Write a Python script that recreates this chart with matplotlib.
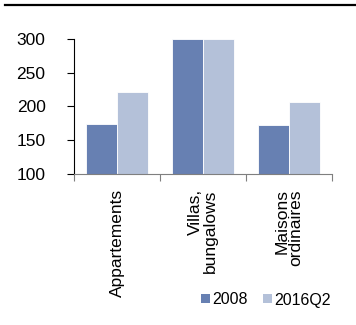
import numpy as np
import matplotlib.pyplot as plt
from matplotlib.lines import Line2D
from matplotlib.patches import Patch

plt.rcParams['font.family'] = ['Liberation Sans', 'DejaVu Sans']

categories = ['Appartements', 'Villas,\nbungalows', 'Maisons\nordinaires']
series_names = ['2008', '2016Q2']
values_2008 = [174, 300, 172]
values_2016 = [222, 300, 207]
colors = ['#6780B2', '#B4C1D9']

fig = plt.figure(figsize=(3.56, 3.25), dpi=100)
ax = fig.add_axes([74 / 356, 1 - 174 / 325, 258 / 356, 135 / 325])

x = np.arange(len(categories))
w = 0.355
ax.bar(x - w / 2, values_2008, w, color=colors[0], edgecolor='white', linewidth=0.6)
ax.bar(x + w / 2, values_2016, w, color=colors[1], edgecolor='white', linewidth=0.6)

ax.set_xlim(-0.5, 2.5)
ax.set_ylim(100, 300)
ax.set_yticks([100, 150, 200, 250, 300])
ax.tick_params(axis='y', labelsize=12.5, length=5, width=0.8, pad=15.5)

# category labels between boundary ticks
ax.set_xticks([-0.5, 0.5, 1.5, 2.5])
ax.set_xticklabels([])
ax.tick_params(axis='x', length=5, width=0.8, color='#7f7f7f')
for xi, lab in zip(x, categories):
    ax.annotate(lab, (xi, 0), xycoords=ax.get_xaxis_transform(),
                xytext=(0, -11), textcoords='offset points', rotation=90,
                ha='center', va='top', multialignment='right',
                fontsize=12.5, linespacing=0.95)

for s in ['top', 'right']:
    ax.spines[s].set_visible(False)
ax.spines['left'].set_linewidth(0.8)
ax.spines['bottom'].set_color('#7f7f7f')
ax.spines['bottom'].set_linewidth(0.8)

# heavy rule at the top of the figure
fig.add_artist(Line2D([5 / 356, 355 / 356], [1 - 5 / 325, 1 - 5 / 325],
                      transform=fig.transFigure, color='black', linewidth=1.6))

handles = [Patch(facecolor=c, edgecolor='none') for c in colors]
fig.legend(handles, series_names, loc='center left', bbox_to_anchor=(201 / 356, 1 - 300 / 325),
           ncol=2, frameon=False, fontsize=11.5, handlelength=0.56, handleheight=0.5,
           handletextpad=0.12, columnspacing=1.0, borderaxespad=0, borderpad=0)

fig.savefig('out.png', dpi=100)
